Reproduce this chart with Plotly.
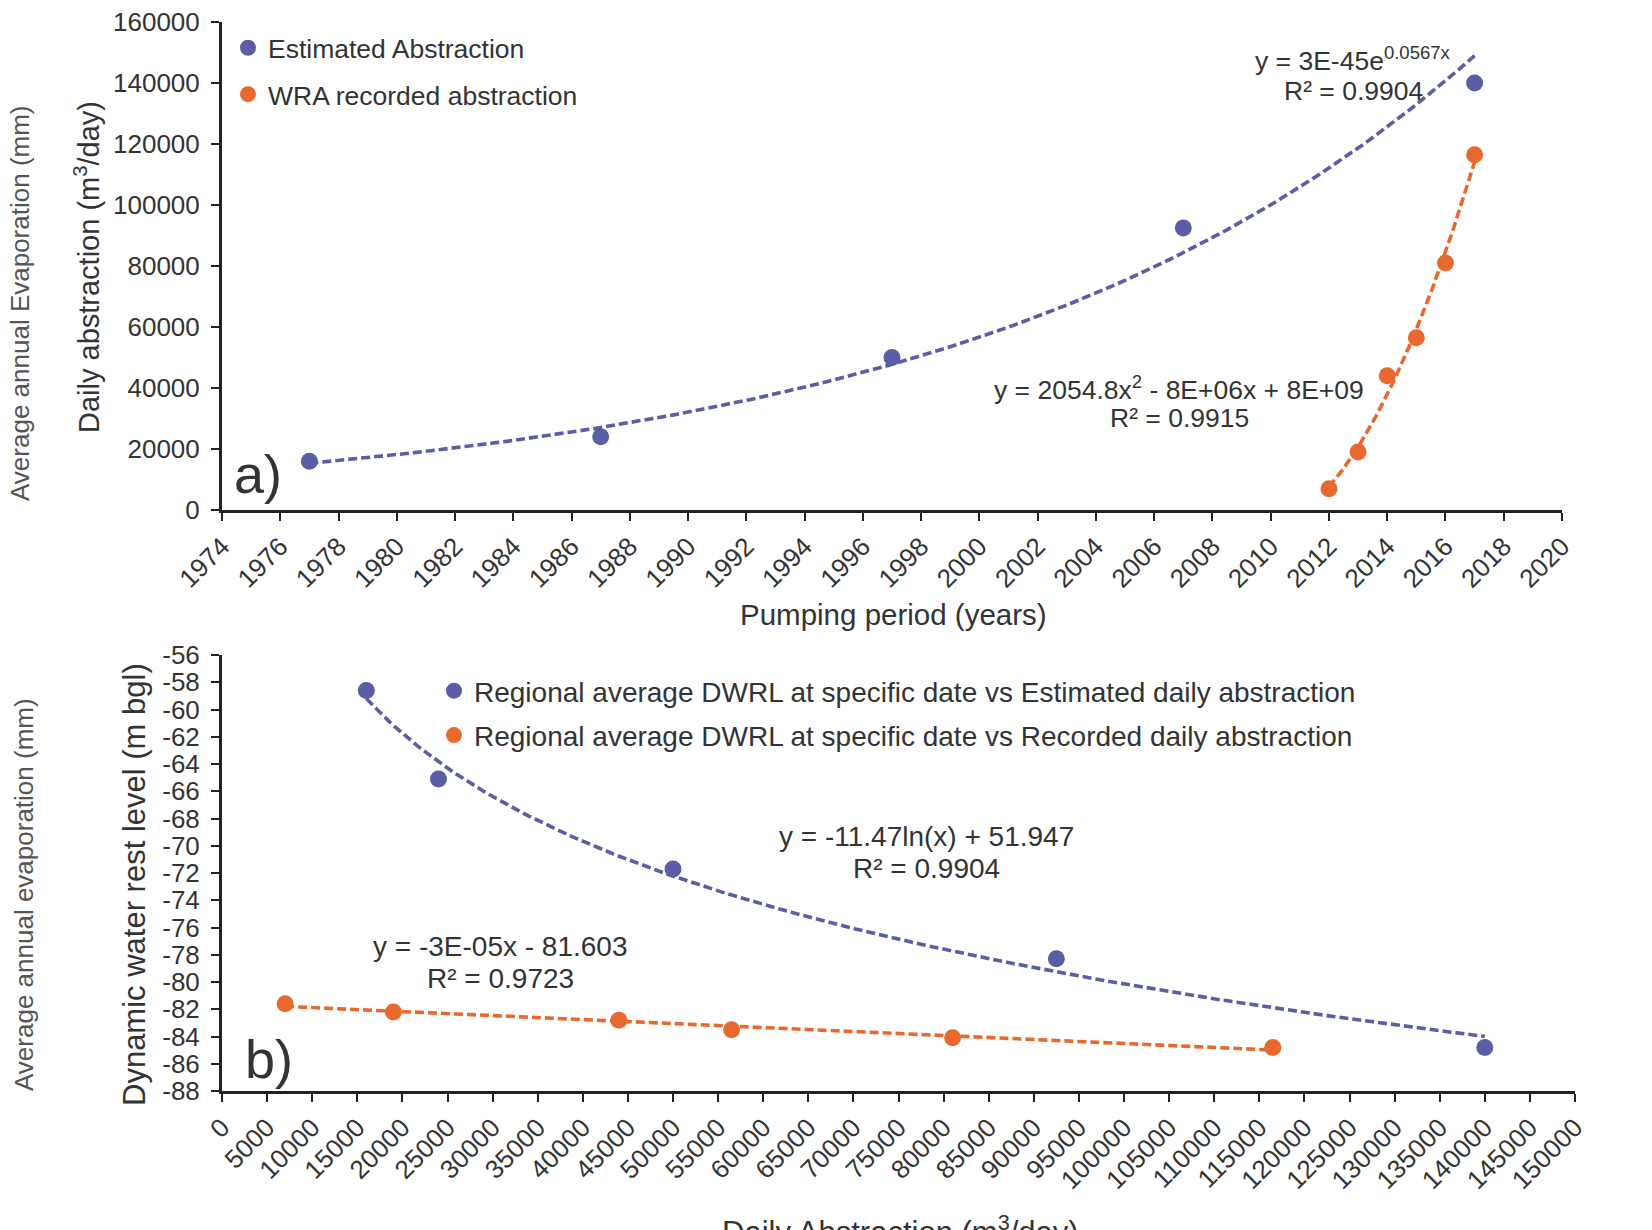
import numpy as np
import plotly.graph_objects as go

# ---------------- data ----------------
est_years = [1977, 1987, 1997, 2007, 2017]
est_abstraction = [16000, 24000, 50000, 92500, 140000]
wra_years = [2012, 2013, 2014, 2015, 2016, 2017]
wra_abstraction = [7000, 19000, 44000, 56500, 81000, 116500]

est_dwrl = [-58.6, -65.1, -71.7, -78.3, -84.8]
wra_dwrl = [-81.6, -82.2, -82.8, -83.5, -84.1, -84.8]

year_ticks = list(range(1974, 2021, 2))
abs_ticks = list(range(0, 150001, 5000))
ylev_ticks = list(range(-88, -55, 2))
yabs_ticks = list(range(0, 160001, 20000))

BLUE = "#5A5EA4"
ORANGE = "#E8692F"
FONT = "Liberation Sans, Arial, sans-serif"
W, H = 1652, 1230
OFF = 8  # page body margin

# ---------------- trend fits ----------------
ex = np.array(est_years, float); ey = np.array(est_abstraction, float)
b, a = np.polyfit(ex, np.log(ey), 1)
ex_line = np.linspace(ex.min(), ex.max(), 200)
ey_line = np.exp(a + b * ex_line)

wx = np.array(wra_years, float); wy = np.array(wra_abstraction, float)
q = np.polyfit(wx - 2014.5, wy, 2)
wx_line = np.linspace(wx.min(), wx.max(), 100)
wy_line = np.polyval(q, wx_line - 2014.5)

bx = np.array(est_abstraction, float); by = np.array(est_dwrl, float)
lb, la = np.polyfit(np.log(bx), by, 1)
bx_line = np.linspace(bx.min(), bx.max(), 200)
by_line = la + lb * np.log(bx_line)

ox = np.array(wra_abstraction, float); oy = np.array(wra_dwrl, float)
m, c = np.polyfit(ox, oy, 1)
ox_line = np.linspace(ox.min(), ox.max(), 50)
oy_line = m * ox_line + c

fig = go.Figure()
dash = "9px,4px"
LW = 3.6
MS = 17
# top panel
fig.add_trace(go.Scatter(x=ex_line, y=ey_line, mode="lines", line=dict(color=BLUE, width=LW, dash=dash),
                         showlegend=False, xaxis="x", yaxis="y", hoverinfo="skip"))
fig.add_trace(go.Scatter(x=wx_line, y=wy_line, mode="lines", line=dict(color=ORANGE, width=LW, dash=dash),
                         showlegend=False, xaxis="x", yaxis="y", hoverinfo="skip"))
fig.add_trace(go.Scatter(x=est_years, y=est_abstraction, mode="markers", name="Estimated Abstraction",
                         marker=dict(color=BLUE, size=MS), xaxis="x", yaxis="y", legend="legend", legendgroup="a1"))
fig.add_trace(go.Scatter(x=wra_years, y=wra_abstraction, mode="markers", name="WRA recorded abstraction",
                         marker=dict(color=ORANGE, size=MS), xaxis="x", yaxis="y", legend="legend", legendgroup="a2"))
# bottom panel
fig.add_trace(go.Scatter(x=bx_line, y=by_line, mode="lines", line=dict(color=BLUE, width=LW, dash=dash),
                         showlegend=False, xaxis="x2", yaxis="y2", hoverinfo="skip"))
fig.add_trace(go.Scatter(x=ox_line, y=oy_line, mode="lines", line=dict(color=ORANGE, width=LW, dash=dash),
                         showlegend=False, xaxis="x2", yaxis="y2", hoverinfo="skip"))
fig.add_trace(go.Scatter(x=est_abstraction, y=est_dwrl, mode="markers",
                         name="Regional average DWRL at specific date vs Estimated daily abstraction",
                         marker=dict(color=BLUE, size=MS), xaxis="x2", yaxis="y2", legend="legend2", legendgroup="b1"))
fig.add_trace(go.Scatter(x=wra_abstraction, y=wra_dwrl, mode="markers",
                         name="Regional average DWRL at specific date vs Recorded daily abstraction",
                         marker=dict(color=ORANGE, size=MS), xaxis="x2", yaxis="y2", legend="legend2", legendgroup="b2"))

# screen-pixel -> paper coordinates
def px(x): return (x - OFF) / W
def py(y): return 1 - (y - OFF) / H

axis_common = dict(showline=True, linecolor="#222", linewidth=3, ticks="outside", ticklen=8,
                   tickwidth=2, tickcolor="#222", showgrid=False, zeroline=False, automargin=False,
                   ticklabeloverflow="allow",
                   tickfont=dict(family=FONT, size=26, color="#333"))

fig.update_layout(
    width=W, height=H, margin=dict(l=0, r=0, t=0, b=0, autoexpand=False),
    paper_bgcolor="white", plot_bgcolor="white",
    font=dict(family=FONT, color="#333"),
    xaxis=dict(domain=[px(222), px(1562)], anchor="y", range=[1974, 2020], tickvals=year_ticks,
               ticktext=[str(v) for v in year_ticks], tickangle=-45, **axis_common),
    yaxis=dict(domain=[py(510), py(22)], anchor="x", range=[0, 160000], tickvals=yabs_ticks,
               ticktext=[str(v) for v in yabs_ticks], ticklabelstandoff=6, **axis_common),
    xaxis2=dict(domain=[px(222), px(1575)], anchor="y2", range=[0, 150000], tickvals=abs_ticks,
                ticktext=[str(v) for v in abs_ticks], tickangle=-45, **axis_common),
    yaxis2=dict(domain=[py(1091), py(655)], anchor="x2", range=[-88, -56], tickvals=ylev_ticks,
                ticktext=[str(v) for v in ylev_ticks], ticklabelstandoff=6, **axis_common),
    legend=dict(x=px(228), y=py(24), xanchor="left", yanchor="top", bgcolor="rgba(0,0,0,0)",
                font=dict(family=FONT, size=26.5, color="#333"), tracegroupgap=9, itemwidth=30),
    legend2=dict(x=px(434), y=py(666), xanchor="left", yanchor="top", bgcolor="rgba(0,0,0,0)",
                 font=dict(family=FONT, size=28, color="#333"), tracegroupgap=5, itemwidth=30),
)

ann = []
def A(x, y, text, size=26, angle=0, color="#333", xanchor="center", yanchor="middle"):
    ann.append(dict(x=px(x), y=py(y), xref="paper", yref="paper", text=text, showarrow=False,
                    textangle=angle, xanchor=xanchor, yanchor=yanchor,
                    font=dict(family=FONT, size=size, color=color)))

A(1353, 59, "y = 3E-45e<sup>0.0567x</sup>", size=26.5)
A(1353, 91, "R² = 0.9904", size=26.5)
A(1179, 388, "y = 2054.8x<sup>2</sup> - 8E+06x + 8E+09", size=26.5)
A(1179, 418, "R² = 0.9915", size=26.5)
A(258, 474, "a)", size=54)
A(893, 615, "Pumping period (years)", size=29.5)
A(87, 267, "Daily abstraction (m<sup>3</sup>/day)", size=29, angle=-90)
A(20, 303, "Average annual Evaporation (mm)", size=26, angle=-90, color="#555")

A(926, 836, "y = -11.47ln(x) + 51.947", size=28)
A(926, 868, "R² = 0.9904", size=28)
A(500, 946, "y = -3E-05x - 81.603", size=28)
A(500, 978, "R² = 0.9723", size=28)
A(269, 1059, "b)", size=54)
A(134, 885, "Dynamic water rest level (m bgl)", size=31, angle=-90)
A(24, 895, "Average annual evaporation (mm)", size=26, angle=-90, color="#555")
A(900, 1208, "Daily Abstraction (m<sup>3</sup>/day)", size=31, yanchor="top")

fig.update_layout(annotations=ann)
fig.write_html("out.html")
